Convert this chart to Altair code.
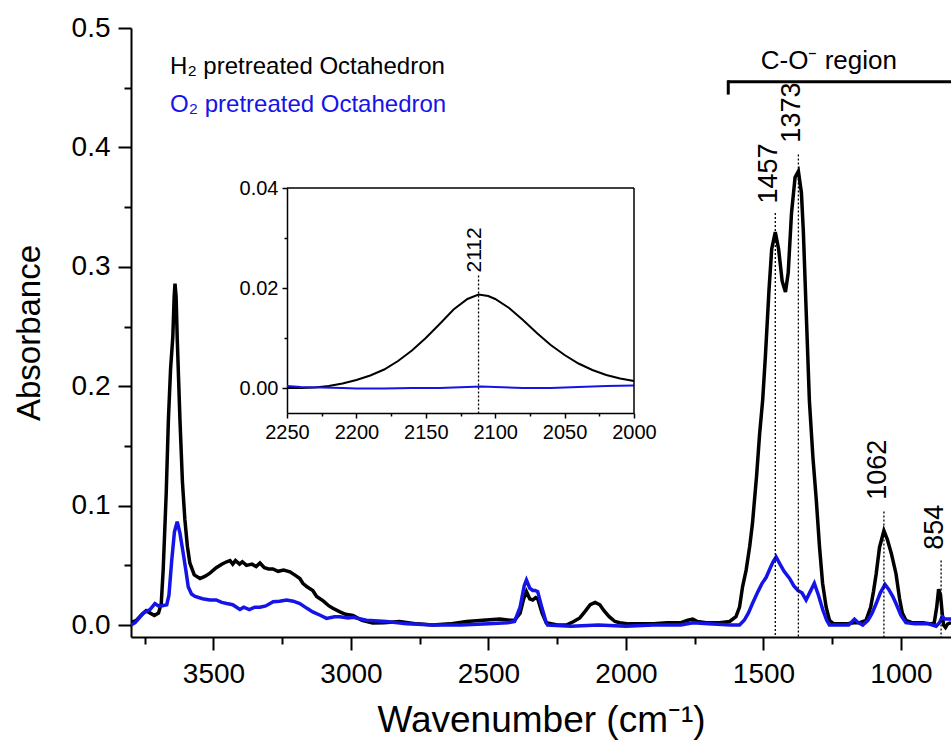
import altair as alt
import pandas as pd

FONT = "Liberation Sans"

# ---------------- main spectra (wavenumber, absorbance) ----------------
h2_wn = [3800, 3780, 3760, 3745, 3730, 3715, 3700, 3690, 3683, 3672, 3664, 3656, 3648, 3643, 3640,
         3636, 3632, 3622, 3613, 3604, 3595, 3586, 3570, 3549, 3530, 3513, 3490, 3470, 3452, 3440,
         3430, 3420, 3405, 3395, 3380, 3360, 3345, 3331, 3315, 3300, 3284, 3265, 3245, 3222, 3205,
         3186, 3175, 3160, 3139, 3125, 3100, 3080, 3066, 3040, 3020, 2993, 2960, 2921, 2880, 2823,
         2760, 2703, 2640, 2580, 2520, 2459, 2420, 2405, 2385, 2372, 2362, 2350, 2339, 2328, 2321,
         2305, 2290, 2250, 2217, 2190, 2168, 2150, 2130, 2112, 2095, 2080, 2061, 2040, 2023, 1990,
         1900, 1850, 1800, 1775, 1757, 1740, 1708, 1660, 1623, 1600, 1587, 1576, 1563, 1550, 1540,
         1525, 1514, 1503, 1493, 1480, 1470, 1457, 1445, 1432, 1420, 1410, 1398, 1385, 1373, 1362,
         1355, 1345, 1333, 1320, 1308, 1296, 1285, 1272, 1260, 1245, 1230, 1200, 1170, 1150, 1127,
         1110, 1100, 1090, 1078, 1062, 1050, 1035, 1018, 1005, 995, 982, 960, 920, 890, 879,
         870, 863, 856, 850, 845, 838, 830, 818]
h2_abs = [0.002, 0.004, 0.009, 0.012, 0.010, 0.008, 0.010, 0.018, 0.046, 0.110, 0.172, 0.215, 0.241, 0.275, 0.286,
          0.275, 0.241, 0.172, 0.120, 0.088, 0.066, 0.052, 0.042, 0.039, 0.041, 0.0435, 0.048, 0.051, 0.053, 0.054,
          0.051, 0.054, 0.051, 0.053, 0.050, 0.051, 0.049, 0.052, 0.048, 0.047, 0.047, 0.045, 0.046, 0.0446, 0.042,
          0.039, 0.035, 0.032, 0.029, 0.024, 0.020, 0.016, 0.014, 0.011, 0.009, 0.008, 0.004, 0.0017, 0.002, 0.003,
          0.001, 0.000, 0.001, 0.003, 0.004, 0.005, 0.004, 0.004, 0.010, 0.022, 0.028, 0.022, 0.021, 0.023, 0.022,
          0.010, 0.002, 0.000, 0.000, 0.003, 0.006, 0.011, 0.017, 0.019, 0.017, 0.012, 0.007, 0.003, 0.002, 0.001,
          0.001, 0.002, 0.002, 0.004, 0.005, 0.003, 0.002, 0.002, 0.003, 0.007, 0.015, 0.032, 0.046, 0.066, 0.085,
          0.125, 0.160, 0.188, 0.225, 0.280, 0.315, 0.329, 0.315, 0.288, 0.279, 0.295, 0.345, 0.375, 0.380, 0.362,
          0.330, 0.265, 0.188, 0.140, 0.105, 0.065, 0.035, 0.015, 0.004, 0.001, 0.001, 0.001, 0.002, 0.002, 0.004,
          0.015, 0.028, 0.043, 0.065, 0.079, 0.072, 0.060, 0.043, 0.022, 0.010, 0.004, 0.002, 0.002, 0.001, 0.002,
          0.015, 0.030, 0.025, 0.010, 0.000, -0.002, 0.001, 0.002]

o2_wn = [3800, 3785, 3770, 3755, 3740, 3731, 3713, 3700, 3690, 3670, 3662, 3652, 3642, 3632, 3622,
         3610, 3600, 3592, 3580, 3567, 3540, 3513, 3490, 3470, 3452, 3430, 3404, 3390, 3370, 3350,
         3331, 3310, 3283, 3260, 3234, 3210, 3186, 3160, 3139, 3110, 3089, 3060, 3041, 3010, 2993,
         2944, 2871, 2798, 2700, 2600, 2500, 2430, 2405, 2385, 2370, 2362, 2350, 2339, 2330, 2321,
         2305, 2290, 2285, 2200, 2100, 2000, 1900, 1800, 1757, 1700, 1620, 1587, 1570, 1555, 1540,
         1520, 1505, 1490, 1475, 1465, 1454, 1440, 1425, 1405, 1390, 1375, 1360, 1345, 1330, 1315,
         1300, 1284, 1270, 1260, 1230, 1190, 1169, 1155, 1139, 1120, 1105, 1090, 1075, 1058, 1045,
         1030, 1018, 1000, 982, 950, 900, 872, 860, 850, 840, 818]
o2_abs = [0.000, 0.002, 0.006, 0.010, 0.012, 0.013, 0.018, 0.016, 0.016, 0.017, 0.025, 0.054, 0.078, 0.0865, 0.077,
          0.060, 0.045, 0.032, 0.026, 0.024, 0.022, 0.021, 0.021, 0.019, 0.018, 0.017, 0.013, 0.015, 0.013, 0.015,
          0.015, 0.016, 0.0195, 0.020, 0.021, 0.020, 0.018, 0.014, 0.011, 0.008, 0.0056, 0.007, 0.007, 0.006, 0.0066,
          0.004, 0.003, 0.001, 0.000, 0.000, 0.001, 0.002, 0.003, 0.015, 0.033, 0.0377, 0.031, 0.029, 0.029, 0.028,
          0.014, 0.002, 0.000, -0.001, 0.000, -0.001, 0.000, 0.000, 0.002, 0.001, 0.000, 0.000, 0.004, 0.010, 0.018,
          0.028, 0.035, 0.040, 0.048, 0.053, 0.057, 0.051, 0.045, 0.039, 0.033, 0.029, 0.027, 0.021, 0.028, 0.035,
          0.025, 0.0126, 0.004, 0.000, 0.000, 0.000, 0.005, 0.002, 0.000, 0.004, 0.010, 0.018, 0.027, 0.034, 0.030,
          0.024, 0.018, 0.008, 0.002, 0.001, 0.001, -0.001, 0.002, 0.007, 0.005, 0.005]

# ---------------- inset spectra ----------------
inset_h2_wn = [2250, 2240, 2230, 2220, 2210, 2200, 2190, 2180, 2170, 2160, 2150, 2140, 2130, 2120, 2112,
               2105, 2100, 2090, 2080, 2070, 2060, 2050, 2040, 2030, 2020, 2010, 2000]
inset_h2_abs = [0.0000, 0.0000, 0.0001, 0.0004, 0.0009, 0.0016, 0.0025, 0.0037, 0.0054, 0.0075, 0.0100, 0.0128,
                0.0157, 0.0178, 0.0187, 0.0184, 0.0178, 0.0160, 0.0136, 0.0110, 0.0086, 0.0066, 0.0049, 0.0036,
                0.0026, 0.0019, 0.0014]
inset_o2_wn = [2250, 2240, 2225, 2210, 2200, 2180, 2160, 2140, 2120, 2110, 2100, 2080, 2060, 2040, 2020, 2000]
inset_o2_abs = [0.0004, 0.0002, 0.0001, 0.0000, -0.0001, -0.0001, 0.0000, 0.0000, 0.0002, 0.0003, 0.0002,
                0.0000, 0.0000, 0.0002, 0.0004, 0.0005]

# ---------------- tick values ----------------
x_major = [3500, 3000, 2500, 2000, 1500, 1000]
x_minor = [3750, 3250, 2750, 2250, 1750, 1250]
y_major = [0.0, 0.1, 0.2, 0.3, 0.4, 0.5]
y_minor = [0.05, 0.15, 0.25, 0.35, 0.45]
ix_major = [2250, 2200, 2150, 2100, 2050, 2000]
ix_minor = [2225, 2175, 2125, 2075, 2025]
iy_major = [0.0, 0.02, 0.04]
iy_minor = [0.01, 0.03]

# ---------------- annotations ----------------
peak_wn = [1457, 1373, 1062, 854]
peak_text = ["1457", "1373", "1062", "854"]
peak_text_y = [0.353, 0.404, 0.105, 0.063]
peak_line_top = [0.345, 0.394, 0.095, 0.054]

inset_peak_wn = [2112]
inset_peak_text = ["2112"]
inset_peak_text_y = [0.0231]
inset_peak_line_top = [0.0225]

legend_text = ["H₂ pretreated Octahedron", "O₂ pretreated Octahedron"]
legend_color = ["#000000", "#1414e8"]
legend_wn = [3658, 3658]
legend_y = [0.4615, 0.430]

region_text = ["C-O⁻ region"]
region_wn = [1262]
region_y = [0.466]
bracket_wn = [1628]
bracket_end_wn = [818]
bracket_y = [0.455]
bracket_tick_y = [0.4455]

X_DOMAIN = [3800, 818]
Y_DOMAIN = [-0.01, 0.5]
INSET_X_DOMAIN = [2250, 2000]
INSET_Y_DOMAIN = [-0.005, 0.04]

BLACK = "#000000"
BLUE = "#1414e8"

# ---------------- data frames ----------------
df_h2 = pd.DataFrame({"wn": h2_wn, "v": h2_abs})
df_o2 = pd.DataFrame({"wn": o2_wn, "v": o2_abs})
df_peaks = pd.DataFrame({"wn": peak_wn, "label": peak_text, "ty": peak_text_y,
                         "top": peak_line_top, "bottom": [Y_DOMAIN[0]] * len(peak_wn)})
df_legend = pd.DataFrame({"wn": legend_wn, "v": legend_y, "label": legend_text, "c": legend_color})
df_region = pd.DataFrame({"wn": region_wn, "v": region_y, "label": region_text})
df_bracket = pd.DataFrame({"wn": bracket_wn, "wn2": bracket_end_wn, "v": bracket_y, "v2": bracket_tick_y})

df_ih2 = pd.DataFrame({"wn": inset_h2_wn, "v": inset_h2_abs})
df_io2 = pd.DataFrame({"wn": inset_o2_wn, "v": inset_o2_abs})
df_ipeak = pd.DataFrame({"wn": inset_peak_wn, "label": inset_peak_text, "ty": inset_peak_text_y,
                         "top": inset_peak_line_top, "bottom": [INSET_Y_DOMAIN[0]]})
df_iframe = pd.DataFrame({"wn": [INSET_X_DOMAIN[0]], "wn2": [INSET_X_DOMAIN[1]],
                          "v": [INSET_Y_DOMAIN[0]], "v2": [INSET_Y_DOMAIN[1]]})

VIEW_W = 820
VIEW_H = 609

# ---------------- scales ----------------
def xs():
    return alt.Scale(domain=X_DOMAIN, nice=False, zero=False)


def ys():
    return alt.Scale(domain=Y_DOMAIN, nice=False, zero=False)


def ixs():
    return alt.Scale(domain=INSET_X_DOMAIN, range=[156, 503], nice=False, zero=False)


def iys():
    return alt.Scale(domain=INSET_Y_DOMAIN, range=[385, 160], nice=False, zero=False)


# ---------------- axes ----------------
x_axis_major = alt.Axis(orient="bottom", values=x_major, format="d", tickSize=13, tickWidth=2,
                        domainWidth=2, labelFontSize=28, labelPadding=10, titleFontSize=37,
                        titleFontWeight="normal", titlePadding=14, labelFlush=False,
                        labelOverlap=False, grid=False)
x_axis_minor = alt.Axis(orient="bottom", values=x_minor, tickSize=7, tickWidth=2, domain=False,
                        labels=False, grid=False)
y_axis_major = alt.Axis(orient="left", values=y_major, format=".1f", tickSize=13, tickWidth=2,
                        domainWidth=2, labelFontSize=28, labelPadding=8, titleFontSize=33,
                        titleFontWeight="normal", titlePadding=25, labelOverlap=False, grid=False)
y_axis_minor = alt.Axis(orient="left", values=y_minor, tickSize=7, tickWidth=2, domain=False,
                        labels=False, grid=False)

ix_axis_major = alt.Axis(orient="bottom", offset=-(VIEW_H - 385), values=ix_major, format="d",
                         tickSize=5, tickWidth=1.5, domainWidth=1.5, labelFontSize=20, labelPadding=4,
                         labelFlush=False, labelOverlap=False, grid=False)
ix_axis_minor = alt.Axis(orient="bottom", offset=-(VIEW_H - 385), values=ix_minor, tickSize=3,
                         tickWidth=1.5, domain=False, labels=False, grid=False)
iy_axis_major = alt.Axis(orient="left", offset=-156, values=iy_major, format=".2f", tickSize=5,
                         tickWidth=1.5, domainWidth=1.5, labelFontSize=20, labelPadding=4,
                         labelOverlap=False, grid=False)
iy_axis_minor = alt.Axis(orient="left", offset=-156, values=iy_minor, tickSize=3, tickWidth=1.5,
                         domain=False, labels=False, grid=False)


def mx(field="wn", axis=None, title=None):
    if axis is None:
        return alt.X(f"{field}:Q", scale=xs(), axis=None)
    return alt.X(f"{field}:Q", scale=xs(), axis=axis, title=title)


def my(field="v", axis=None, title=None):
    if axis is None:
        return alt.Y(f"{field}:Q", scale=ys(), axis=None)
    return alt.Y(f"{field}:Q", scale=ys(), axis=axis, title=title)


def ix(field="wn", axis=None):
    if axis is None:
        return alt.X(f"{field}:Q", scale=ixs(), axis=None)
    return alt.X(f"{field}:Q", scale=ixs(), axis=axis, title=None)


def iy(field="v", axis=None):
    if axis is None:
        return alt.Y(f"{field}:Q", scale=iys(), axis=None)
    return alt.Y(f"{field}:Q", scale=iys(), axis=axis, title=None)


# ---------------- main layers ----------------
h2_line = alt.Chart(df_h2).mark_line(color=BLACK, strokeWidth=3.5, clip=True).encode(
    x=mx(axis=x_axis_major, title="Wavenumber (cm⁻¹)"),
    y=my(axis=y_axis_major, title="Absorbance"),
    order=alt.Order("wn:Q", sort="descending"),
)
o2_line = alt.Chart(df_o2).mark_line(color=BLUE, strokeWidth=3.5, clip=True).encode(
    x=mx(axis=x_axis_minor), y=my(axis=y_axis_minor),
    order=alt.Order("wn:Q", sort="descending"),
)
peak_rules = alt.Chart(df_peaks).mark_rule(color=BLACK, strokeWidth=1.3, strokeDash=[2, 2]).encode(
    x=mx(), y=my("top"), y2="bottom:Q",
)
peak_labels = alt.Chart(df_peaks).mark_text(
    font=FONT, fontSize=27, angle=270, align="left", baseline="alphabetic", color=BLACK, dy=2
).encode(x=mx(), y=my("ty"), text="label:N")

legend_marks = alt.Chart(df_legend).mark_text(
    font=FONT, fontSize=24, align="left", baseline="alphabetic"
).encode(x=mx(), y=my(), text="label:N", color=alt.Color("c:N", scale=None))

region_label = alt.Chart(df_region).mark_text(
    font=FONT, fontSize=26, align="center", baseline="alphabetic", color=BLACK
).encode(x=mx(), y=my(), text="label:N")

bracket_h = alt.Chart(df_bracket).mark_rule(color=BLACK, strokeWidth=3, clip=True).encode(
    x=mx(), x2="wn2:Q", y=my(),
)
bracket_v = alt.Chart(df_bracket).mark_rule(color=BLACK, strokeWidth=3, strokeCap="square").encode(
    x=mx(), y=my(), y2="v2:Q",
)

# ---------------- inset layers ----------------
inset_h2_line = alt.Chart(df_ih2).mark_line(color=BLACK, strokeWidth=2).encode(
    x=ix(axis=ix_axis_major), y=iy(axis=iy_axis_major),
    order=alt.Order("wn:Q", sort="descending"),
)
inset_o2_line = alt.Chart(df_io2).mark_line(color=BLUE, strokeWidth=2).encode(
    x=ix(axis=ix_axis_minor), y=iy(axis=iy_axis_minor),
    order=alt.Order("wn:Q", sort="descending"),
)
inset_rule = alt.Chart(df_ipeak).mark_rule(color=BLACK, strokeWidth=1.3, strokeDash=[2, 2]).encode(
    x=ix(), y=iy("top"), y2="bottom:Q",
)
inset_label = alt.Chart(df_ipeak).mark_text(
    font=FONT, fontSize=21, angle=270, align="left", baseline="alphabetic", color=BLACK, dy=2
).encode(x=ix(), y=iy("ty"), text="label:N")
inset_top = alt.Chart(df_iframe).mark_rule(color=BLACK, strokeWidth=1.5).encode(
    x=ix(), x2="wn2:Q", y=iy("v2"),
)
inset_right = alt.Chart(df_iframe).mark_rule(color=BLACK, strokeWidth=1.5).encode(
    x=ix("wn2"), y=iy(), y2="v2:Q",
)

chart = (
    alt.layer(
        h2_line, o2_line, peak_rules, peak_labels, legend_marks, region_label, bracket_h, bracket_v,
        inset_h2_line, inset_o2_line, inset_rule, inset_label, inset_top, inset_right,
    )
    .resolve_scale(x="independent", y="independent")
    .properties(
        width=VIEW_W, height=VIEW_H,
        padding={"left": 131, "top": 28, "right": 0, "bottom": 107},
        autosize=alt.AutoSizeParams(type="none"),
        background="white",
    )
    .configure_view(stroke=None)
    .configure_axis(
        domainColor=BLACK, tickColor=BLACK, labelColor=BLACK, titleColor=BLACK,
        labelFont=FONT, titleFont=FONT,
    )
)

chart.save("out.html", embed_options={"renderer": "svg", "actions": False})
